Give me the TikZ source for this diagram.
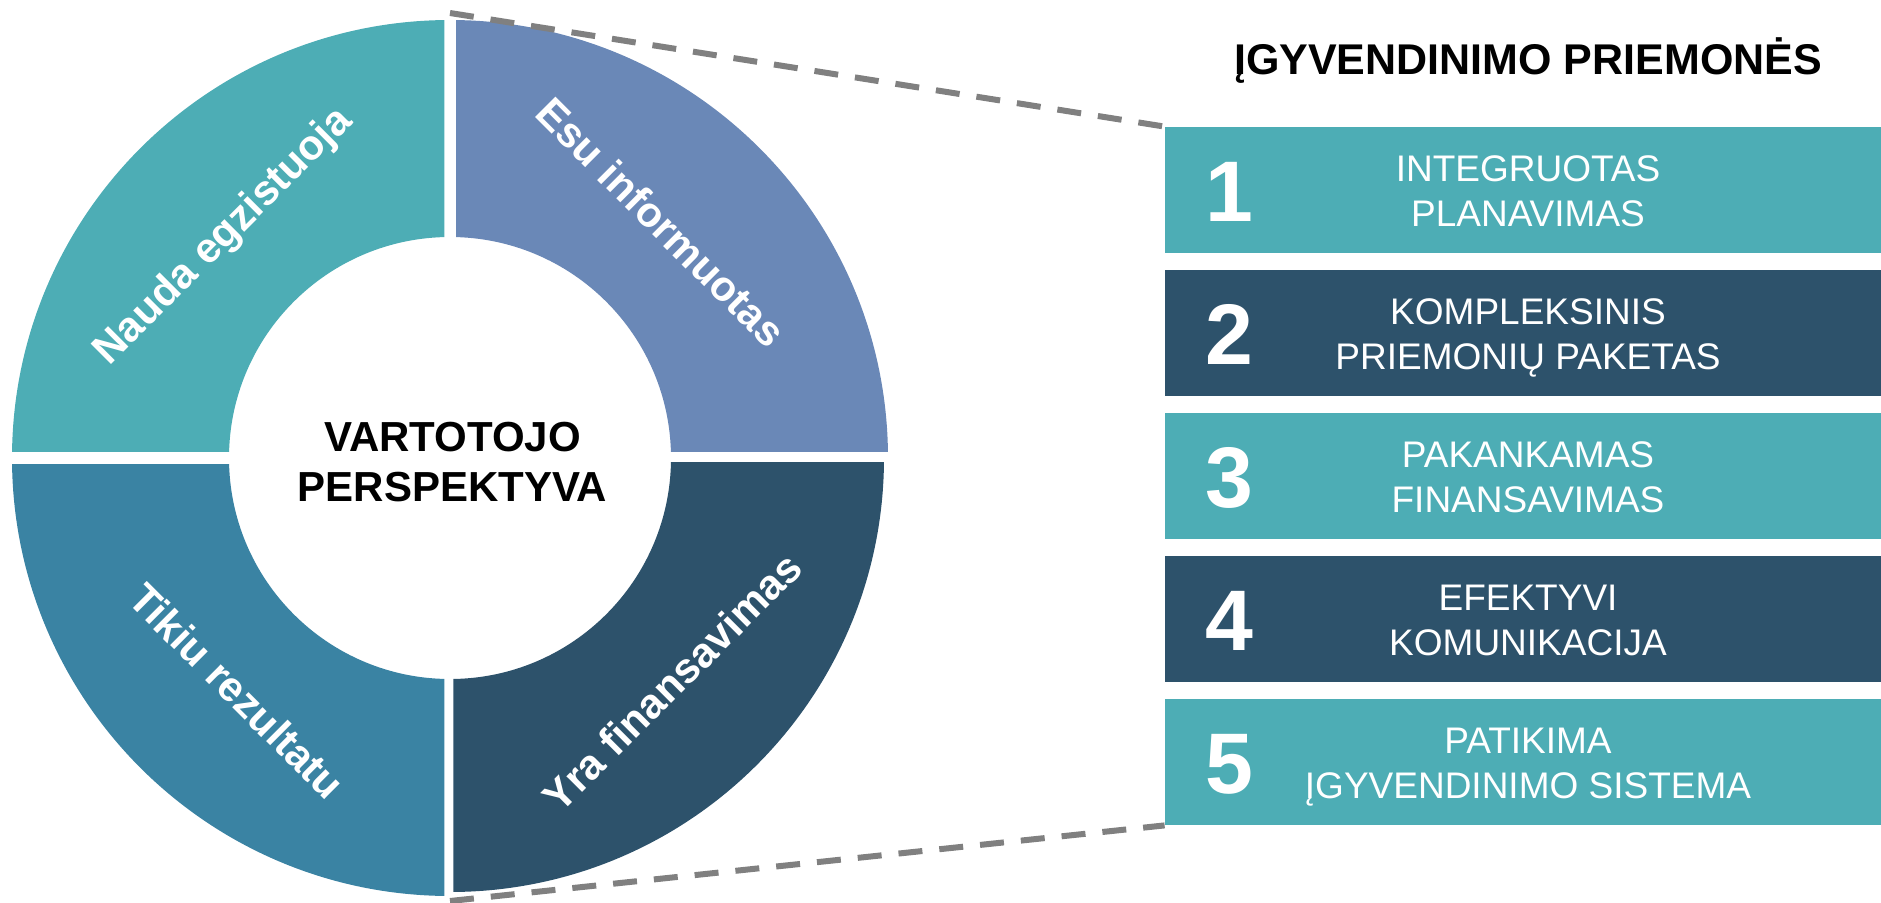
\documentclass[tikz,border=0pt]{standalone}
\usepackage{fontspec}
\setmainfont{Liberation Sans}
\definecolor{cTeal}{HTML}{4DADB5}
\definecolor{cBlue}{HTML}{6A88B7}
\definecolor{cSteel}{HTML}{3A83A3}
\definecolor{cDark}{HTML}{2D526B}
\definecolor{cDash}{HTML}{808080}
\begin{document}
\begin{tikzpicture}[x=0.5pt,y=0.5pt,
  quadlabel/.style={text=white,font=\fontsize{21}{25}\selectfont\bfseries,inner sep=0pt},
  hublabel/.style={text=black,font=\fontsize{21}{25}\selectfont\bfseries,align=center,inner sep=0pt},
  panel/.style={minimum width=358pt,minimum height=63pt,inner sep=0pt,draw=none},
  panelnum/.style={text=white,font=\fontsize{43}{50}\selectfont\bfseries,anchor=base,inner sep=0pt},
  paneltext/.style={text=white,font=\fontsize{18.5}{22.5}\selectfont,align=center,inner sep=0pt},
  zoomline/.style={draw=cDash,line width=3pt,dash pattern=on 12pt off 8.5pt}]
\useasboundingbox (0,0) rectangle (1881,902);
\coordinate (hub) at (450,444);

% ring quadrants
\begin{scope}
  \clip (0,450.3) rectangle (444.3,902);
  \fill[cTeal,even odd rule] (hub) circle[radius=438] (hub) circle[radius=221];
\end{scope}
\begin{scope}
  \clip (456,450.3) rectangle (900,902);
  \fill[cBlue,even odd rule] (hub) circle[radius=438] (hub) circle[radius=221];
\end{scope}
\begin{scope}
  \clip (0,0) rectangle (444.3,437.7);
  \fill[cSteel,even odd rule] (hub) circle[radius=438] (hub) circle[radius=221];
\end{scope}
\begin{scope}
  \clip (453.3,0) rectangle (900,440);
  \fill[cDark,even odd rule] (hub) circle[radius=434] (hub) circle[radius=221];
\end{scope}

% quadrant labels
\node[quadlabel,rotate=45]  (qtl) at (224,665) {Nauda egzistuoja};
\node[quadlabel,rotate=-45] (qtr) at (661,680) {Esu informuotas};
\node[quadlabel,rotate=-45] (qbl) at (237,211) {Tikiu rezultatu};
\node[quadlabel,rotate=45]  (qbr) at (672,220) {Yra finansavimas};

% hub label
\node[hublabel] (hubtext) at (452.5,435.3) {VARTOTOJO\strut\\PERSPEKTYVA\strut};

% title
\node[text=black,font=\fontsize{21.5}{26}\selectfont\bfseries,anchor=base,inner sep=0pt]
  (title) at (1528,827) {ĮGYVENDINIMO PRIEMONĖS};

% panels
\node[panel,fill=cTeal] (b1) at (1523,712) {};
\node[panel,fill=cDark] (b2) at (1523,569) {};
\node[panel,fill=cTeal] (b3) at (1523,426) {};
\node[panel,fill=cDark] (b4) at (1523,283) {};
\node[panel,fill=cTeal] (b5) at (1523,140) {};

\node[panelnum] (n1) at (1229,680.3) {1};
\node[panelnum] (n2) at (1229,537.3) {2};
\node[panelnum] (n3) at (1229,394.3) {3};
\node[panelnum] (n4) at (1229,251.3) {4};
\node[panelnum] (n5) at (1229,108.3) {5};

\node[paneltext] (t1) at (1528,707) {INTEGRUOTAS\strut\\PLANAVIMAS\strut};
\node[paneltext] (t2) at (1528,564) {KOMPLEKSINIS\strut\\PRIEMONIŲ PAKETAS\strut};
\node[paneltext] (t3) at (1528,421) {PAKANKAMAS\strut\\FINANSAVIMAS\strut};
\node[paneltext] (t4) at (1528,278) {EFEKTYVI\strut\\KOMUNIKACIJA\strut};
\node[paneltext] (t5) at (1528,135) {PATIKIMA\strut\\ĮGYVENDINIMO SISTEMA\strut};

% zoom lines from the ring to the panel stack
\coordinate (ringtop) at (450,889);
\coordinate (ringbottom) at (450,1);
\draw[zoomline] (ringtop) -- (b1.north west);
\draw[zoomline] (ringbottom) -- (b5.south west);
\end{tikzpicture}
\end{document}
